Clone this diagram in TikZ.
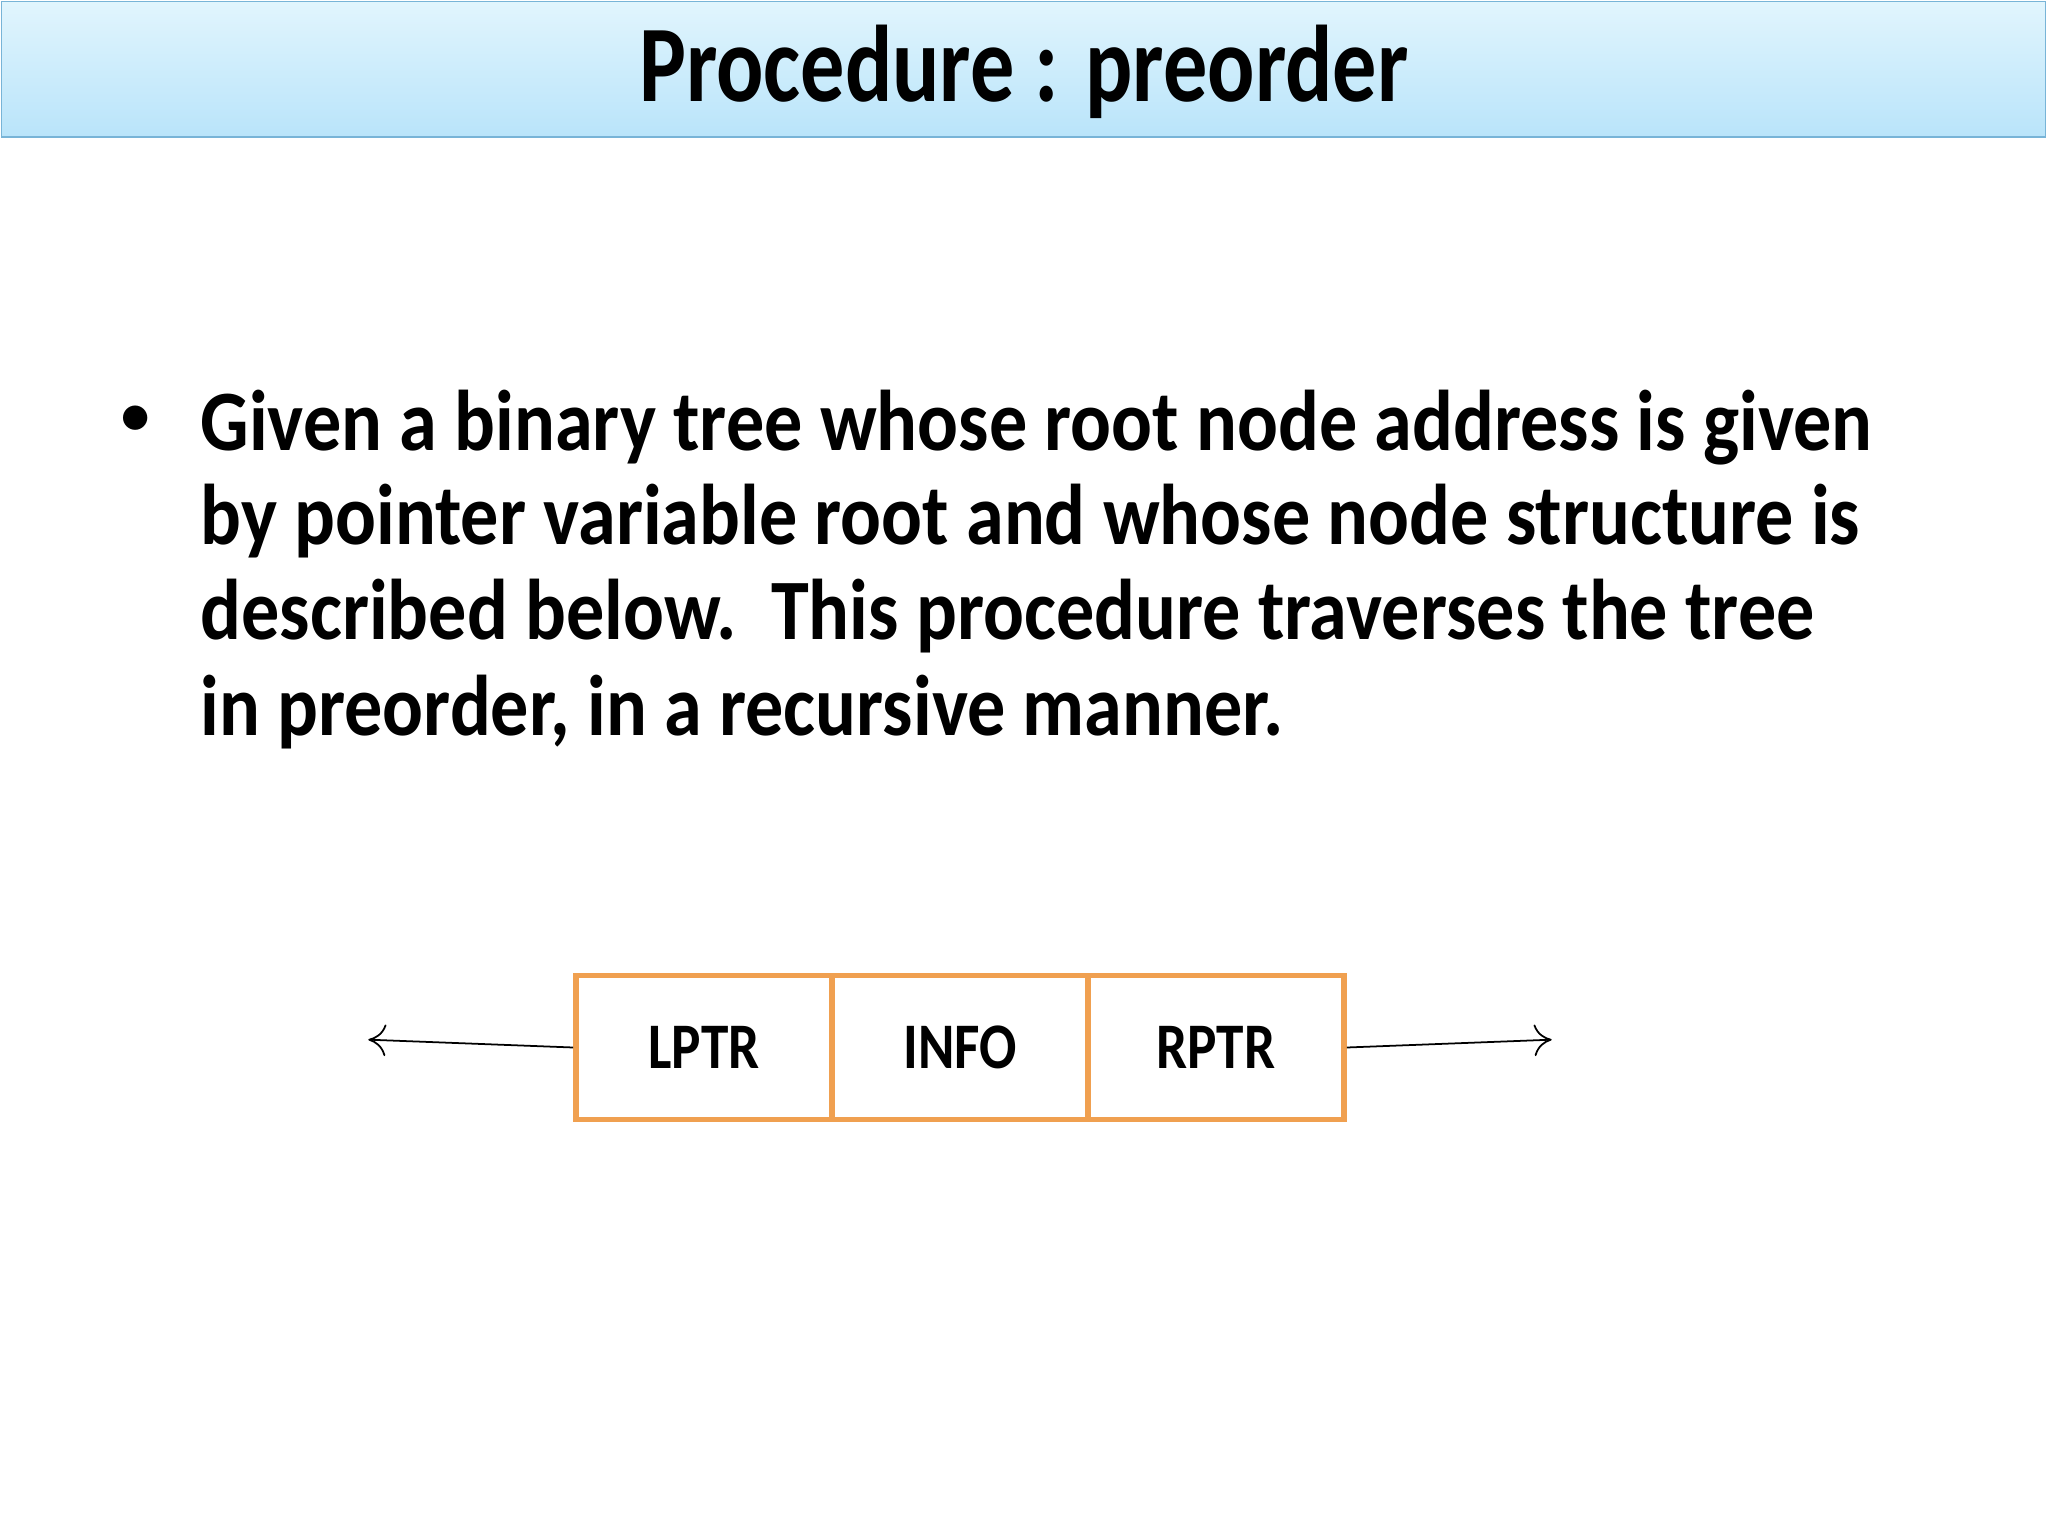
\documentclass[tikz,border=0pt]{standalone}
\usepackage{fontspec}
\setmainfont{Carlito}
\usetikzlibrary{arrows.meta}
\definecolor{boxor}{RGB}{240,160,80}
\definecolor{bartop}{RGB}{225,245,253}
\definecolor{barbot}{RGB}{185,228,250}
\definecolor{barline}{RGB}{120,180,215}
\begin{document}
\begin{tikzpicture}[x=0.013061cm,y=-0.013061cm,
  body/.style={anchor=base west,inner sep=0,font=\bfseries\fontsize{24.5}{28}\selectfont},
  cell/.style={draw=boxor,line width=1.6pt,minimum width=2.56cm,minimum height=1.44cm,inner sep=0,font=\bfseries\fontsize{18.5}{20}\selectfont},
  ptr/.style={->,>={To[length=5pt,width=9pt,open]},line width=0.5pt}]
\useasboundingbox (0,0) rectangle (1568,1176);
\shade[top color=bartop,bottom color=barbot,draw=barline] (1,1) rectangle (1566,105);
\node[font=\bfseries\fontsize{31}{34}\selectfont] (title) at (784,55) {\scalebox{0.81}[1]{Procedure : preorder}};
\node[anchor=base,inner sep=0,font=\fontsize{24.5}{28}\selectfont] (bul) at (104,335) {\scalebox{0.8}{•}};
\node[body] (l1) at (153,345) {\scalebox{0.885}[1]{Given a binary tree whose root node address is given}};
\node[body] (l2) at (153,417) {\scalebox{0.885}[1]{by pointer variable root and whose node structure is}};
\node[body] (l3) at (153,490) {\scalebox{0.885}[1]{described below.\ \ This procedure traverses the tree}};
\node[body] (l4) at (153,563) {\scalebox{0.885}[1]{in preorder, in a recursive manner.}};
\node[cell] (lp) at (539,802) {\scalebox{0.85}[1]{LPTR}};
\node[cell] (in) at (735,802) {\scalebox{0.85}[1]{INFO}};
\node[cell] (rp) at (931,802) {\scalebox{0.85}[1]{RPTR}};
\coordinate (le) at (282,796);
\coordinate (re) at (1188,796);
\draw[ptr] (lp.west) -- (le);
\draw[ptr] (rp.east) -- (re);
\end{tikzpicture}
\end{document}
